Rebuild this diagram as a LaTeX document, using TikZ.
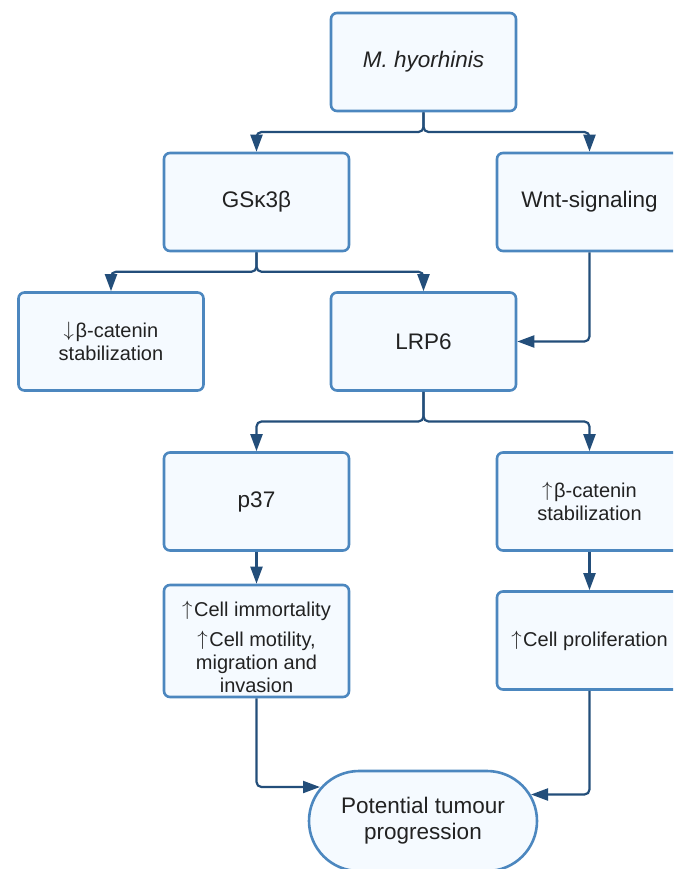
\documentclass[tikz,border=0pt]{standalone}
\usepackage{fontspec}
\setmainfont{Liberation Sans}
\usetikzlibrary{arrows.meta,calc}
\definecolor{boxedge}{HTML}{4C87BF}
\definecolor{boxfill}{HTML}{F5FAFF}
\definecolor{linkc}{HTML}{234E7A}
\definecolor{txt}{HTML}{222222}
\newcommand{\upar}{\raisebox{0.05em}{$\uparrow$}\kern0.08em}
\newcommand{\dnar}{\raisebox{0.05em}{$\downarrow$}\kern0.08em}
\begin{document}
\begin{tikzpicture}[x=1pt,y=-1pt,
  box/.style={draw=boxedge, fill=boxfill, line width=2.6pt, rounded corners=6pt,
    minimum width=185pt, minimum height=98pt, inner sep=0pt, align=center,
    text=txt, font=\fontsize{22.5}{26}\selectfont},
  small/.style={font=\fontsize{20}{23}\selectfont},
  link/.style={draw=linkc, line width=2.2pt, rounded corners=5pt,
    -{Triangle[length=17pt,width=12pt]}}]
\useasboundingbox (0,0) rectangle (673,869);
\clip (0,0) rectangle (673,869);
\node[box] (M) at (423.5,62) {\itshape M. hyorhinis};
\node[box] (G) at (256.5,202) {GSκ3β};
\node[box] (W) at (589.5,202) {Wnt-signaling};
\node[box,small] (BD) at (111,341.5) {\dnar β-catenin\\stabilization};
\node[box] (L) at (423.5,341.5) {LRP6};
\node[box] (P) at (256.5,501.5) {p37};
\node[box,small] (BU) at (589.5,501.5) {\upar β-catenin\\stabilization};
\node[box,small,minimum height=112pt] (I) at (256.5,641) {\rule{0pt}{28pt}\upar Cell immortality\\[7pt]\upar Cell motility,\\migration and\\invasion};
\node[box,small] (R) at (589.5,640.5) {\upar Cell proliferation};
\node[box, rounded corners=50pt, minimum width=228pt, minimum height=100pt] (T) at (423,821) {Potential tumour\\progression};
\draw[link] (M.south) |- ($(M.south)!0.5!(G.north)$) -| (G.north);
\draw[link] (M.south) |- ($(M.south)!0.5!(W.north)$) -| (W.north);
\draw[link] (G.south) |- ($(G.south)!0.5!(BD.north)$) -| (BD.north);
\draw[link] (G.south) |- ($(G.south)!0.5!(L.north)$) -| (L.north);
\draw[link] (W.south) |- (L.east);
\draw[link] (L.south) |- ($(L.south)!0.5!(P.north)$) -| (P.north);
\draw[link] (L.south) |- ($(L.south)!0.5!(BU.north)$) -| (BU.north);
\draw[link] (P.south) -- (I.north);
\draw[link] (BU.south) -- (R.north);
\coordinate (TL) at (320,787);
\coordinate (TR) at (531,794.5);
\draw[link] (I.south) |- (TL);
\draw[link] (R.south) |- (TR);
\end{tikzpicture}
\end{document}
